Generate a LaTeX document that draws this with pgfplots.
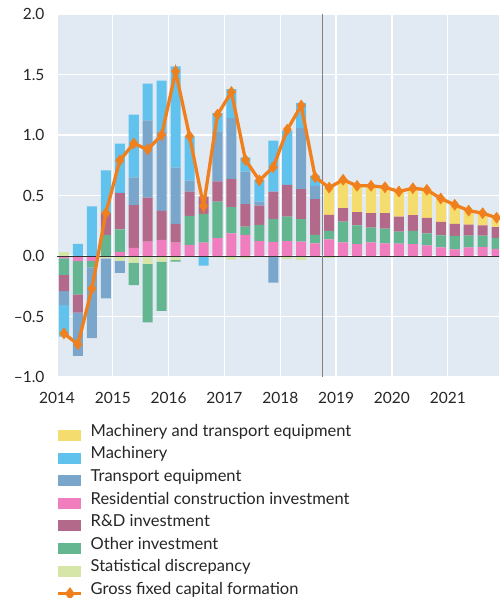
\documentclass[border=0pt]{standalone}
\usepackage{fontspec}
\setmainfont{Lato}
\usepackage{pgfplots}
\usepackage{pgfplotstable}
\pgfplotsset{compat=1.18}
\definecolor{bgc}{RGB}{225,234,243}
\definecolor{cmte}{RGB}{245,220,110}
\definecolor{cmac}{RGB}{98,194,238}
\definecolor{ctra}{RGB}{122,166,204}
\definecolor{cres}{RGB}{240,126,190}
\definecolor{crnd}{RGB}{179,106,138}
\definecolor{coth}{RGB}{100,182,144}
\definecolor{cstat}{RGB}{214,230,168}
\definecolor{corg}{RGB}{240,128,30}

\pgfplotstableread{
x res stat oth rnd tra mac mte gfcf
2014.125 -0.020 0.035 -0.137 -0.133 -0.116 -0.260 0 -0.640
2014.375 -0.042 0 -0.275 -0.150 -0.359 0.100 0 -0.730
2014.625 -0.040 0 -0.055 0 -0.583 0.410 0 -0.270
2014.875 0 -0.020 0.174 0.180 -0.330 0.353 0 0.355
2015.125 0.035 -0.040 0.186 0.300 -0.100 0.407 0 0.790
2015.375 0.067 -0.054 -0.186 0.353 0.229 0.519 0 0.930
2015.625 0.118 -0.066 -0.483 0.365 0.638 0.304 0 0.880
2015.875 0.133 -0.047 -0.406 0.240 0.657 0.420 0 1.000
2016.125 0.110 -0.035 -0.012 0.155 0.465 0.838 0 1.525
2016.375 0.091 0 0.240 0.202 0.091 0.366 0 0.990
2016.625 0.110 0 0.238 0.142 0 -0.080 0 0.414
2016.875 0.147 -0.012 0.303 0.166 0.414 0.150 0 1.168
2017.125 0.188 -0.030 0.215 0.232 0.505 0.240 0 1.355
2017.375 0.174 -0.020 0.069 0.185 0.270 0.117 0 0.795
2017.625 0.124 0 0.133 0.160 0.033 0.180 0 0.625
2017.875 0.116 0 0.188 0.229 -0.220 0.420 0 0.735
2018.125 0.124 -0.025 0.202 0.262 0 0.447 0 1.044
2018.375 0.118 -0.033 0.186 0.249 0.505 0.207 0 1.243
2018.625 0.105 -0.010 0.069 0.296 0.110 0.085 0 0.652
2018.875 0.138 -0.015 0.069 0.133 0 0 0.225 0.565
2019.125 0.113 0 0.171 0.111 0 0 0.235 0.630
2019.375 0.099 0 0.155 0.108 0 0 0.218 0.580
2019.625 0.113 0 0.122 0.119 0 0 0.226 0.580
2019.875 0.105 0 0.121 0.128 0 0 0.214 0.568
2020.125 0.102 0 0.100 0.124 0 0 0.207 0.533
2020.375 0.099 0 0.108 0.130 0 0 0.223 0.560
2020.625 0.088 0 0.100 0.127 0 0 0.232 0.547
2020.875 0.072 0 0.099 0.111 0 0 0.193 0.475
2021.125 0.055 0 0.111 0.099 0 0 0.158 0.423
2021.375 0.072 0 0.096 0.092 0 0 0.115 0.375
2021.625 0.075 0 0.093 0.086 0 0 0.100 0.354
2021.875 0.058 0 0.091 0.089 0 0 0.078 0.316
}\data

\pgfplotsset{
  common/.style={width=442pt, height=363pt, scale only axis,
    xmin=2014, xmax=2021.918, ymin=-1, ymax=2, enlargelimits=false},
  barax/.style={common, ybar stacked, bar width=0.18},
  hidden/.style={hide axis},
  boxlegend/.style={legend image code/.code={\fill[##1] (0pt,-5.5pt) rectangle (23pt,5.5pt);}},
  gfcflegend/.style={legend image code/.code={\draw[##1, mark=none] (0pt,0pt) -- (23pt,0pt);
    \draw[##1] plot coordinates {(11.5pt,0pt)};}}
}

\begin{document}
\begin{tikzpicture}
\useasboundingbox (-57pt,-221pt) rectangle (442pt,377pt);
% positive stack + frame
\begin{axis}[barax,
  axis background/.style={fill=bgc},
  axis line style={draw=none},
  grid=major, grid style={white, line width=1.3pt},
  major tick length=0pt,
  xtick={2014,2015,2016,2017,2018,2019,2020,2021},
  xticklabels={2014,2015,2016,2017,2018,2019,2020,2021},
  ytick={-1,-0.5,0,0.5,1,1.5,2},
  yticklabels={\textendash1.0,\textendash0.5,0.0,0.5,1.0,1.5,2.0},
  tick label style={font=\fontsize{15.5}{18}\selectfont, text=black!85},
  xticklabel style={yshift=-12pt},
  yticklabel style={xshift=-9pt},
  boxlegend,
  legend cell align=left,
  legend style={draw=none, fill=none, at={(0,0)}, anchor=north west,
    yshift=-47pt, inner sep=0pt, row sep=0pt, column sep=8pt,
    font=\fontsize{16.5}{19}\selectfont, text=black!85,
    nodes={inner sep=0pt, text height=12pt, text depth=10.6pt}},
]
\addplot[fill=cres, draw=none, forget plot] table[x=x, y expr={max(\thisrow{res},0)}] {\data};
\addplot[fill=cstat, draw=none, forget plot] table[x=x, y expr={max(\thisrow{stat},0)}] {\data};
\addplot[fill=coth, draw=none, forget plot] table[x=x, y expr={max(\thisrow{oth},0)}] {\data};
\addplot[fill=crnd, draw=none, forget plot] table[x=x, y expr={max(\thisrow{rnd},0)}] {\data};
\addplot[fill=ctra, draw=none, forget plot] table[x=x, y expr={max(\thisrow{tra},0)}] {\data};
\addplot[fill=cmac, draw=none, forget plot] table[x=x, y expr={max(\thisrow{mac},0)}] {\data};
\addplot[fill=cmte, draw=none, forget plot] table[x=x, y expr={max(\thisrow{mte},0)}] {\data};
\addlegendimage{fill=cmte, draw=none}
\addlegendentry{Machinery and transport equipment}
\addlegendimage{fill=cmac, draw=none}
\addlegendentry{Machinery}
\addlegendimage{fill=ctra, draw=none}
\addlegendentry{Transport equipment}
\addlegendimage{fill=cres, draw=none}
\addlegendentry{Residential construction investment}
\addlegendimage{fill=crnd, draw=none}
\addlegendentry{R\&D investment}
\addlegendimage{fill=coth, draw=none}
\addlegendentry{Other investment}
\addlegendimage{fill=cstat, draw=none}
\addlegendentry{Statistical discrepancy}
\addlegendimage{draw=corg, fill=corg, line width=2.5pt, mark=diamond*, mark size=4.5pt, gfcflegend}
\addlegendentry{Gross fixed capital formation}
\end{axis}
% negative stack
\begin{axis}[barax, hidden]
\addplot[fill=cres, draw=none] table[x=x, y expr={min(\thisrow{res},0)}] {\data};
\addplot[fill=cstat, draw=none] table[x=x, y expr={min(\thisrow{stat},0)}] {\data};
\addplot[fill=coth, draw=none] table[x=x, y expr={min(\thisrow{oth},0)}] {\data};
\addplot[fill=crnd, draw=none] table[x=x, y expr={min(\thisrow{rnd},0)}] {\data};
\addplot[fill=ctra, draw=none] table[x=x, y expr={min(\thisrow{tra},0)}] {\data};
\addplot[fill=cmac, draw=none] table[x=x, y expr={min(\thisrow{mac},0)}] {\data};
\addplot[fill=cmte, draw=none] table[x=x, y expr={min(\thisrow{mte},0)}] {\data};
\end{axis}
% lines
\begin{axis}[common, hidden]
\addplot[black!80, line width=0.9pt] coordinates {(2014,0) (2022,0)};
\addplot[black!50, line width=0.9pt] coordinates {(2018.75,-1) (2018.75,2)};
\addplot[corg, line width=3.3pt, mark=diamond*, mark size=5.5pt,
  mark options={fill=corg, draw=corg, line width=0.5pt}] table[x=x, y=gfcf] {\data};
\end{axis}
\end{tikzpicture}
\end{document}
